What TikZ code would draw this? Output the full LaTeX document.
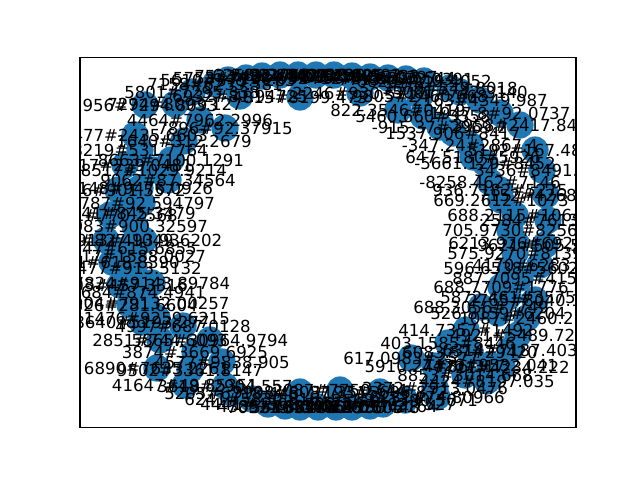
\documentclass[tikz,border=0pt]{standalone}
\usepackage{fontspec}
\setmainfont{DejaVu Sans}
\definecolor{nodeblue}{RGB}{31,119,180}

% x/y/label of every ring node, in pixels from the top left
\newcommand\ringnodes{%
228/80/5610\#575.7283, 246/78/5753\#7158.6324, 262/76/7533\#824.1176,
280/75/6258\#2043.716, 298/75/8431\#762.5190, 316/75/9317\#5408.226,
334/75/2784\#6135.992, 352/76/4406\#1985.733, 370/77/3188\#456.0397,
388/78/1275\#8306.544, 406/79/7713\#573.0391, 424/81/6620\#919.4052,
450/88/3579\#549.8018, 460/92/5061\#742.3140,
240/96/6932\#81.94725, 300/97/4815\#8199.473, 360/93/2246\#930.5717,
420/96/9805\#2460.668,
192/92/5801\#7295.338, 215/84/7158\#6239.581, 175/104/7294\#8093.127,
145/105/5956\#7294.8093, 200/120/4464\#7962.2996, 225/128/7896\#92.37915,
184/141/1640\#312.2679, 135/135/1477\#2435.6603, 171/160/8663\#7100.1291,
154/170/8517\#1029.9214, 168/180/9062\#87.34564, 140/188/7148\#9476.0926,
142/203/8787\#92.594797, 128/213/9741\#845.3479, 135/226/8083\#900.32597,
144/240/1913\#493.936202, 129/248/8547\#615.6855, 133/256/3817\#1588.0027,
134/268/8477\#913.5132, 152/283/7824\#9143.89784, 138/292/7684\#874.4941,
146/303/8904\#79132.00257, 157/318/1476\#9259.6215, 183/326/4997\#687.0128,
210/340/5865\#30964.9794, 195/352/3874\#3669.6925, 222/362/4577\#9838.905,
110/215/6431\#770.2568, 106/240/1935\#827.1049, 112/262/5731\#618.8390,
120/285/2903\#457.3316, 118/190/3346\#901.5572, 125/165/6617\#239.0481,
140/150/8219\#531.7764, 130/305/7326\#281.6604, 142/322/8640\#5193.277,
160/340/2851\#744.6093, 157/368/6890\#7635.2261, 190/370/9502\#3361.8147,
185/385/41647\#49.85351, 225/386/3618\#2904.557, 232/393/5205\#6718.443,
252/399/6241\#5830.916, 268/404/4441\#4396.508,
285/406/4385\#1624.019, 300/407/7092\#3351.2287, 318/407/5516\#1087.330,
336/407/1940\#8672.605, 352/407/6674\#2015.448, 370/406/3095\#657.2164,
383/404/8122\#4403.7527, 405/400/2568\#1390.5071, 437/397/6231\#74.80966,
300/392/9908\#6087.351, 340/390/2087\#7750.644, 380/392/1193\#5606.872,
435/388/3372\#2913.0476, 435/366/5910.24\#86.317, 487/381/4424\#8197.035,
502/367/7721\#4234.222, 411/358/617.0983\#2577, 448/343/403.1585\#8446,
466/330/414.7357\#1492, 470/352/6083.57\#29420, 498/313/526.8159\#6204,
481/307/688.3056\#7749, 508/297/5872.461\#3575, 501/287/688.7709\#1776,
520/278/887.7095\#4157, 511/268/596.6538\#5602, 515/253/575.9270\#8139,
516/243/6213.976\#6924, 510/230/705.9730\#8256, 515/215/688.2115\#1064,
501/200/669.2612\#1073, 500/190/936.7182\#5275, 490/182/-8258.462\#7146,
485/163/-5661.129\#8452, 473/157/647.5180\#5926, 470/145/-347.24\#2867.4,
453/133/1537.906\#8417, 440/127/-915.37\#2969.2, 423/116/5460.660\#3358,
398/110/822.3546\#0419, 500/113/1947.8\#92.0737, 480/100/2163\#4349.987,
535/150/5192\#167.4815, 542/170/3436\#8491.004, 546/195/7152\#4268.791,
548/220/2584\#7613.006, 545/245/9621\#505.5279, 540/265/4170\#6283.760,
535/300/2765\#8040.157, 527/318/1087\#2460.213, 518/335/4921\#5489.726,
510/350/6314\#7187.403, 520/125/3958\#2417.845, 490/365/7426\#9532.041,
465/375/8853\#3014.668}

\begin{document}
\begin{tikzpicture}[x=0.01in,y=-0.01in]
    \tikzset{dot/.style={circle, fill=nodeblue, draw=none, minimum size=0.272in, inner sep=0pt},
        lbl/.style={inner sep=0pt, text=black, font=\fontsize{12}{14}\selectfont},
    }
    \useasboundingbox (0,0) rectangle (640,480);

    \foreach \x/\y/\txt [count=\i] in \ringnodes
        \node [dot] (n\i) at (\x,\y) {};

    \draw [line width=0.8pt] (80,57.6) rectangle (576,427.2);

    \begin{scope}
        \clip (80,57.6) rectangle (576,427.2);
        \foreach \x/\y/\txt [count=\i] in \ringnodes
            \node [lbl] (t\i) at (n\i) {\txt};
    \end{scope}
\end{tikzpicture}
\end{document}
